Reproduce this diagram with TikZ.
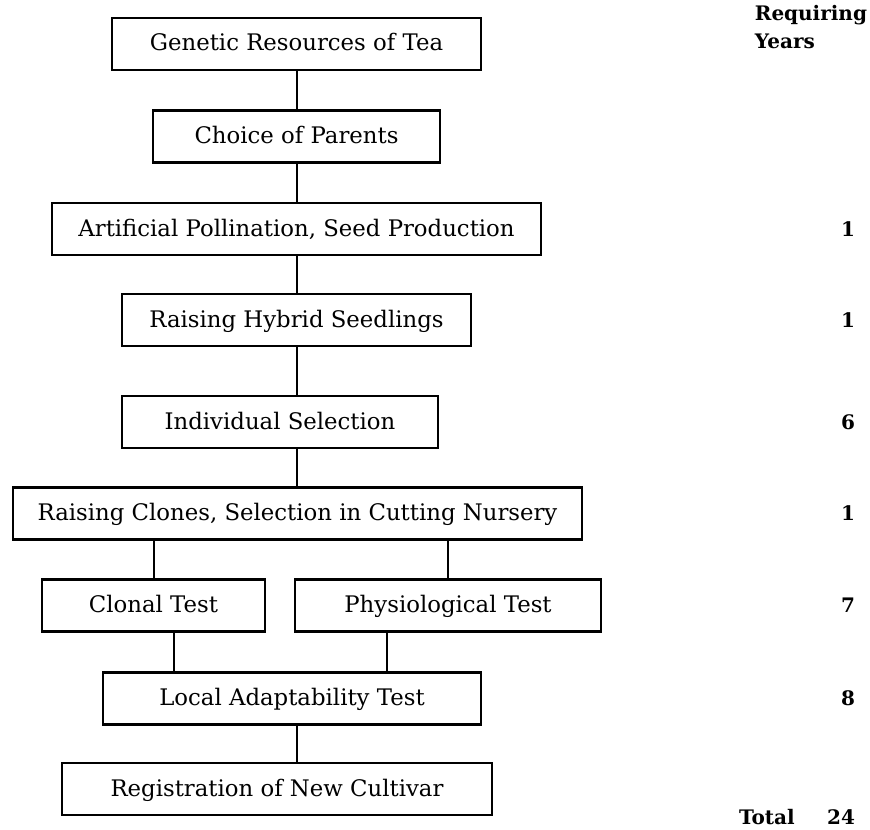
\documentclass[tikz,border=0pt]{standalone}
\usepackage{fontspec}
\setmainfont{DejaVu Serif}
\usepackage{tikz}
\usetikzlibrary{positioning}

\begin{document}
\begin{tikzpicture}[x=0.5pt, y=-0.5pt, every path/.style={line width=1pt},
	box/.style={draw, line width=1.3pt, minimum height=26pt, inner sep=0pt,
		text height=9pt, text depth=2pt, font=\fontsize{11.4}{13}\selectfont},
	yrs/.style={font=\bfseries\fontsize{10}{12}\selectfont, anchor=east, inner sep=0pt}]
	\useasboundingbox (0,0) rectangle (870,829);
	\node[box, minimum width=184.5pt] (gr) at (296.5,44) {Genetic Resources of Tea};
	\node[box, minimum width=143.5pt] (cp) at (296.5,136.5) {Choice of Parents};
	\node[box, minimum width=244.5pt] (ap) at (296.5,229) {Artificial Pollination, Seed Production};
	\node[box, minimum width=174.5pt] (hs) at (296.5,320) {Raising Hybrid Seedlings};
	\node[box, minimum width=158pt] (is) at (280,422) {Individual Selection};
	\node[box, minimum width=284.5pt] (rc) at (297.5,513.5) {Raising Clones, Selection in Cutting Nursery};
	\node[box, minimum width=111.5pt] (ct) at (153.5,605.5) {Clonal Test};
	\node[box, minimum width=153pt] (phy) at (448,605.5) {Physiological Test};
	\node[box, minimum width=189pt] (la) at (292,698.5) {Local Adaptability Test};
	\node[box, minimum width=215pt] (rn) at (277,789) {Registration of New Cultivar};

	\draw (gr) -- (cp);
	\draw (cp) -- (ap);
	\draw (ap) -- (hs);
	\draw (hs.south) -- (hs.south |- is.north);
	\draw (hs.south |- is.south) -- (hs.south |- rc.north);
	\draw (ct.north |- rc.south) -- (ct.north);
	\draw (phy.north |- rc.south) -- (phy.north);
	\draw ([xshift=10pt]ct.south) -- ([xshift=10pt]ct.south |- la.north);
	\draw ([xshift=-30.5pt]phy.south) -- ([xshift=-30.5pt]phy.south |- la.north);
	\draw (cp.south |- la.south) -- (cp.south |- rn.north);

	\node[yrs, anchor=north east, align=left] (hd) at (868,4) {Requiring\\[2pt]Years};
	\foreach \b/\v in {ap/1, hs/1, is/6, rc/1, ct/7, la/8}
		\node[yrs] (y-\b) at (856,0 |- \b) {\v};
	\node[yrs, anchor=west] (tot) at (738,817) {Total};
	\node[yrs] (sum) at (856,817) {24};
\end{tikzpicture}
\end{document}
